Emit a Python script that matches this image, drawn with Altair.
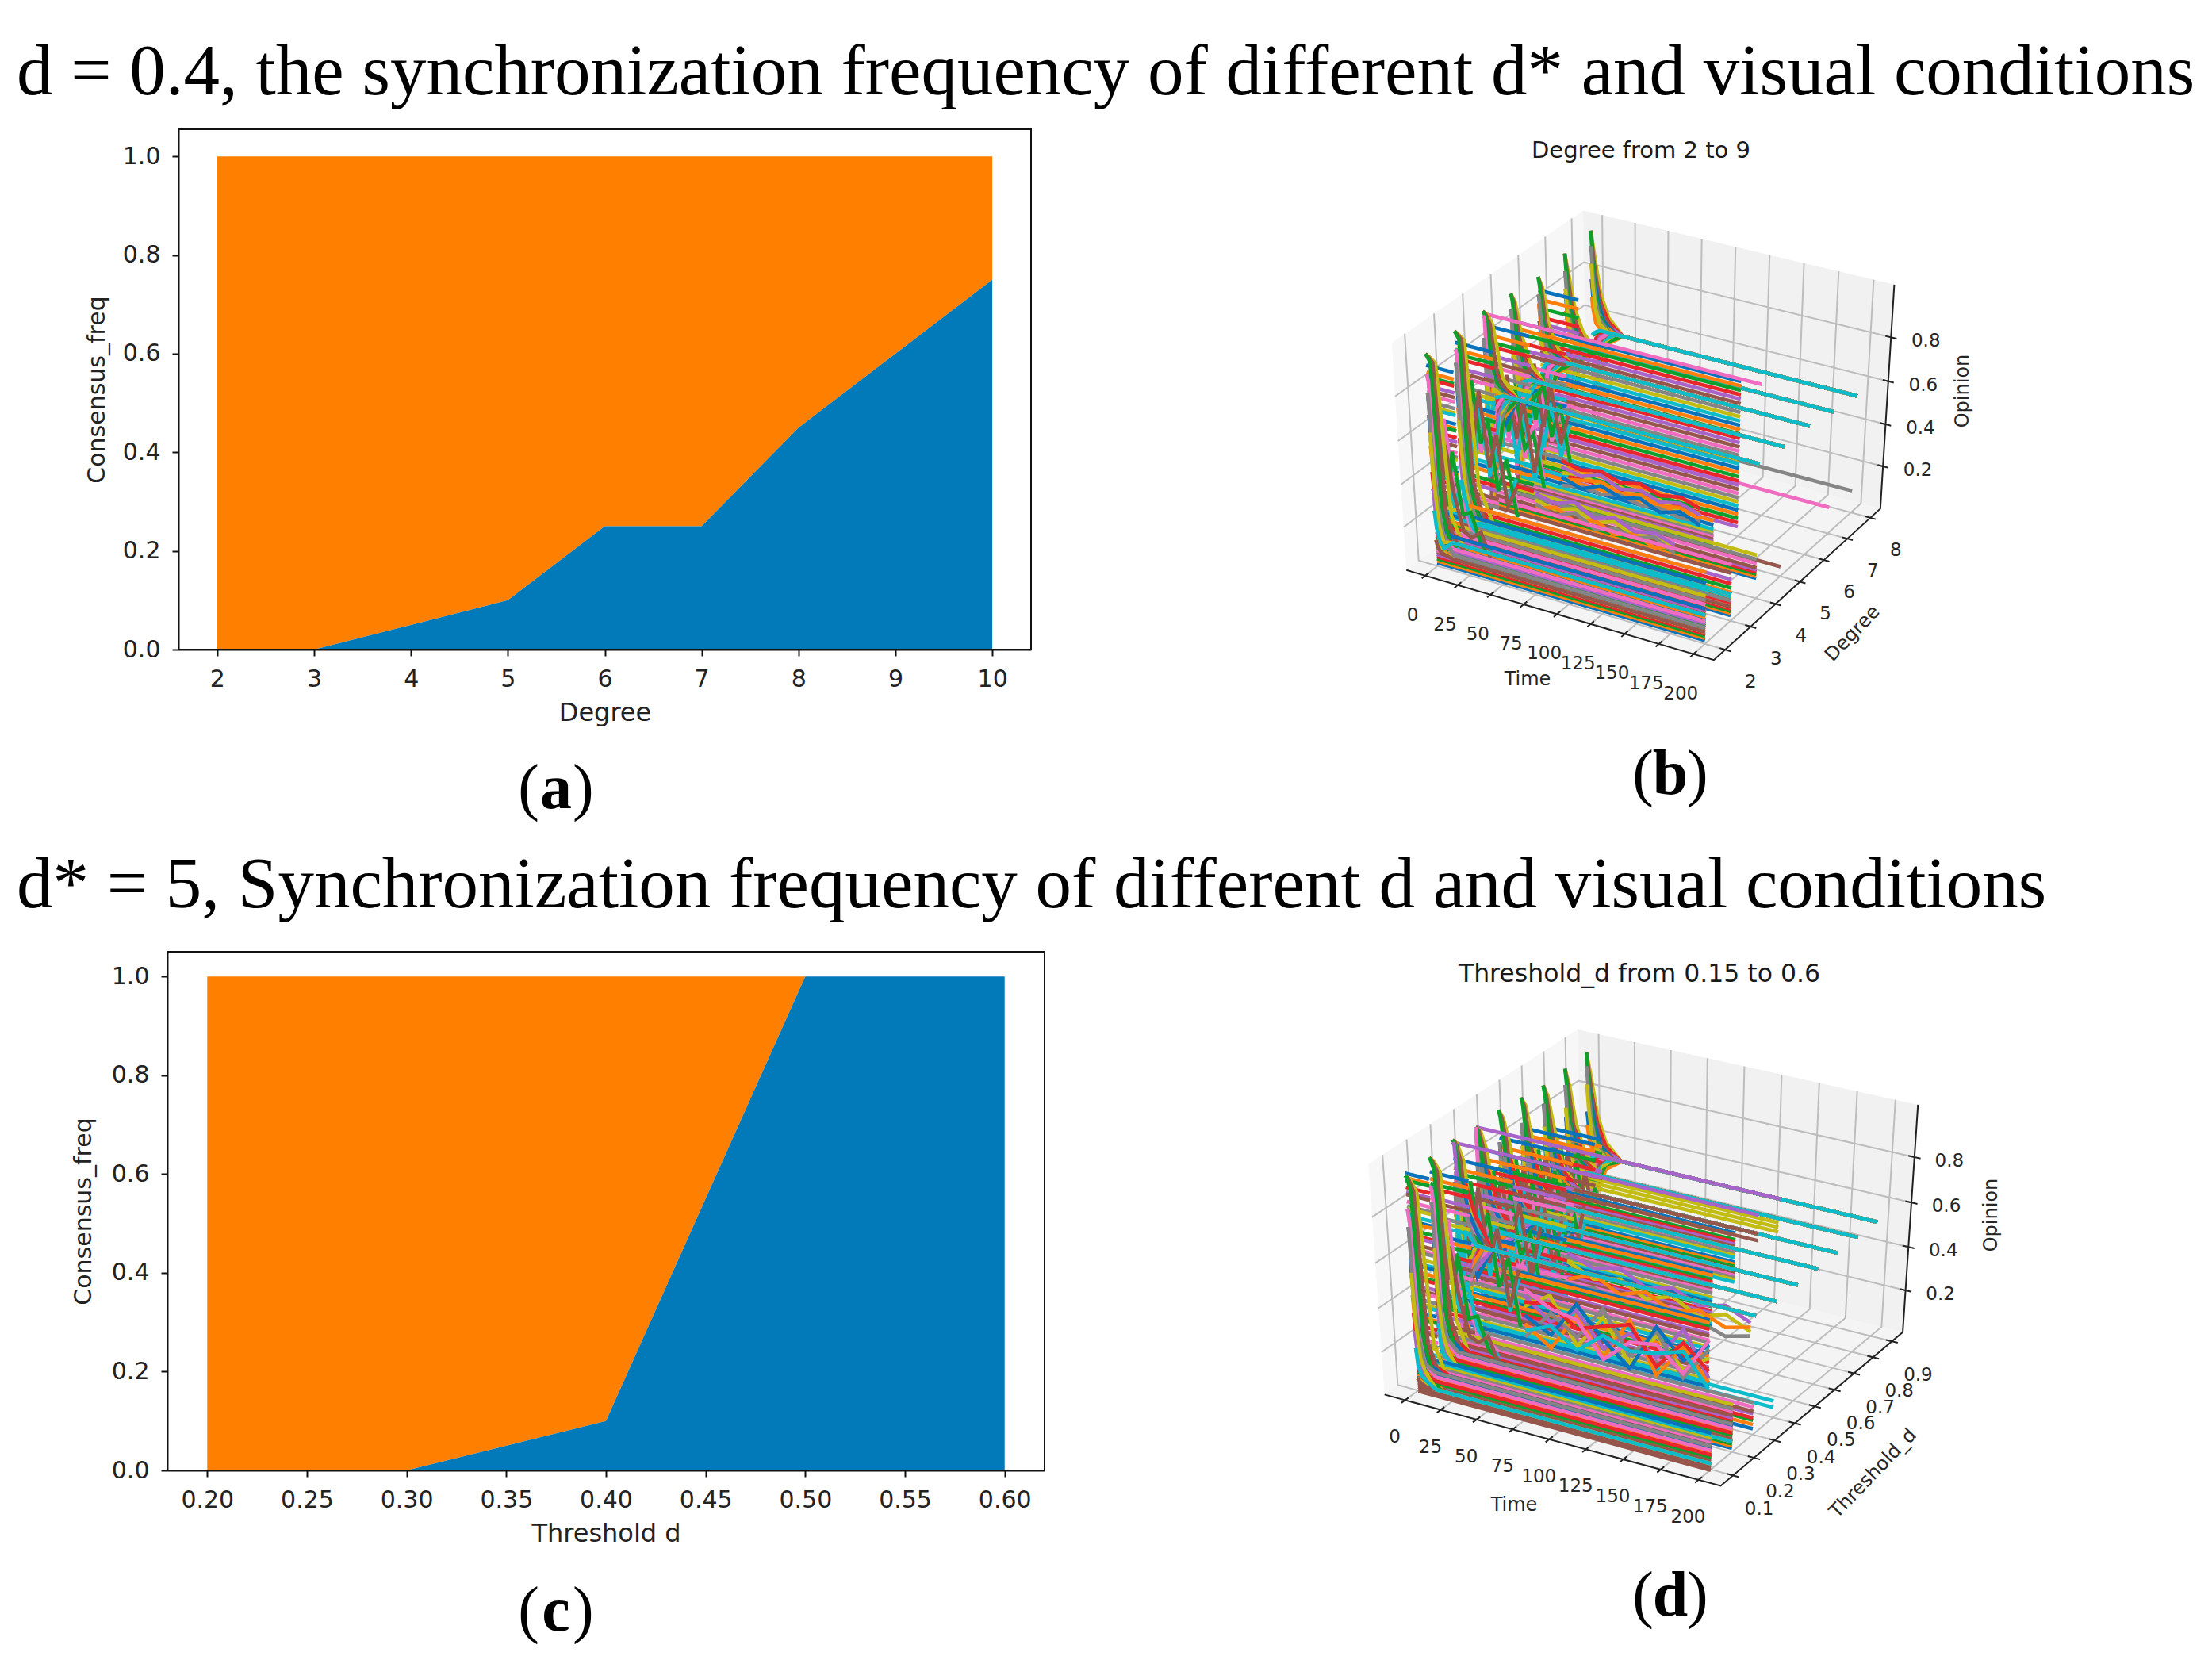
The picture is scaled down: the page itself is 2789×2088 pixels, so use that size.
import math
import numpy as np
import pandas as pd
import altair as alt

W, H = 2773, 2072
TAB = ["#0a72ba", "#ff7f0e", "#0da02c", "#e8262b", "#a864c8", "#96564b", "#f06cc0", "#858585", "#c3bc12", "#0dbccb"]
BLUE, ORANGE = "#0279b8", "#ff7f00"

TITLE_1 = "d = 0.4, the synchronization frequency of different d* and visual conditions"
TITLE_2 = "d* = 5, Synchronization frequency of different d and visual conditions"

# ---- panel (a), (c)
DEGREE = [2, 3, 4, 5, 6, 7, 8, 9, 10]
FREQ_A = [0, 0, 0.05, 0.10, 0.25, 0.25, 0.45, 0.60, 0.75]
THRESH = [0.2, 0.3, 0.4, 0.5, 0.6]
FREQ_C = [0, 0, 0.10, 1.0, 1.0]
ONES_A = [1] * 9
ONES_C = [1] * 5
Y_TICKS = [0, 0.2, 0.4, 0.6, 0.8, 1.0]
XT_C = [0.2, 0.25, 0.3, 0.35, 0.4, 0.45, 0.5, 0.55, 0.6]

# ---- 3D panels: opinions in hundredths, spike knots at these times
T_SPIKES = [[0, 3, 7, 13, 24], [0, 2, 5, 9, 18], [0, 1, 3, 6, 13]]
T_WIG_B = [35, 50, 65, 80, 95, 110, 125, 140]
T_WIG_D = [45, 63, 81, 99, 117, 135, 153, 170]
T_WIGL = [1, 6, 11, 16, 22, 28, 35, 42]

SPIKES_B = {
8: [[78,69,60,57,55],[70,64,58,56,55],[100,87,72,62,56],[41,46,51,53,55],[31,40,48,52,55],[11,26,40,50,55],[19,31,44,51,55],[93,80,68,60,56],[85,74,64,58,55],[52,53,54,55,55]],
7: [[80,70,62,58,57],[72,66,60,58,57],[98,88,74,64,58],[38,45,52,55,57],[28,38,48,54,57],[12,24,42,52,57],[20,33,45,53,57],[90,78,68,61,57],[82,72,64,59,57],[50,53,55,56,57]],
6: [[76,70,65,62,60],[84,74,66,62,60],[96,92,76,66,61],[34,44,52,57,60],[25,36,48,56,60],[8,20,40,54,60],[15,28,44,55,60],[88,80,70,63,60],[70,66,63,61,60],[48,52,56,58,60]],
5: [[74,62,66,62,60],[86,70,64,62,60],[97,94,80,68,61],[30,48,46,58,60],[22,30,52,54,60],[7,16,34,56,60],[13,40,38,50,60],[90,58,72,64,60],[68,72,58,62,60],[45,54,50,58,60]],
4: [[70,56,68,60,62],[60,46,58,66,62],[98,97,93,70,62],[26,50,40,58,62],[20,34,56,48,62],[6,14,30,52,62],[96,95,30,54,62],[86,60,74,66,62],[54,70,44,64,62],[42,56,48,60,62]],
3: [[78,40,22,16,14],[64,50,30,18,12],[98,97,95,30,10],[50,32,20,12,8],[40,28,16,12,10],[15,10,8,7,6],[90,88,20,14,11],[84,60,36,20,9],[58,44,26,15,13],[30,24,14,10,12]],
2: [[70,44,22,18,16],[56,36,24,14,12],[97,96,94,26,8],[44,30,18,13,11],[36,24,14,10,9],[12,9,7,6,5],[88,85,24,15,10],[80,52,30,16,7],[62,40,20,12,14],[26,18,12,9,13]],
}
BANDS_B = {
8: [(200, [10], 7), (12, [48,44,40,36,32,28,24,20], None)],
7: [(200, [12], 6), (14, [52,47,43,38,34,29,25,20,16], None)],
6: [(150, [72,70,68,66,64,62,60,58,56,54,52,50,48,46,44,42,40,38,36,34,32,30,28,26,24,22,20,18,16,14,12,10,8,6,4], None), (30, [90,86,82,78,75], None)],
5: [(150, [4,5,6,7,8,9,10,11,12,13,15,17], None), (200, [4], 5), (40, [85,82,80,76,73,71,66,62,60,55,52,49,44,41,38,34,30,27,23,19], None)],
4: [(200, [97], 6), (200, [9,10,11,12,13,14,16,18,20], None), (34, [92,88,85,83,79,76,74,70,67,65,61,58,56,51,49,47,42,40,37,33,30,28,24,21], None)],
3: [(200, [2,3,4,5,6,7,8,9,10,11,12,13,15,17,19,22,26], None), (28, [93,90,88,86,82,80,78,74,72,70,66,64,62,58,56,54,50,48,46,42,40,38,34,32,30,26,24,22], None)],
2: [(200, [1,2,3,4,5,6,7,8,9,10,11,12,13,14,15,16,18,20,22,25,28,33], None), (20, [92,89,87,86,83,81,79,76,74,73,69,67,66,63,61,59,56,54,53,49,47,46,43,41,39,36,34,33,29,27,26,23,21,20], None)],
}
WIG_B = {
5: [[20,22,19,21,18,20,17,19],[17,19,21,18,20,17,19,16],[23,21,24,20,22,19,21,18],[14,16,15,17,15,16,14,15],[18,15,19,16,18,14,17,13],[26,24,26,23,25,22,24,21]],
4: [[17,15,18,14,17,13,16,12],[13,16,12,15,11,14,10,13],[20,18,21,16,19,15,17,14],[15,12,16,11,14,12,15,10]],
}
WIGL_B = {
5: [[70,45,62,38,55,34,48,30],[40,66,36,58,30,52,28,44],[58,30,70,42,64,36,52,26],[30,52,44,68,40,60,34,50]],
4: [[76,50,68,42,60,36,52,28],[46,72,38,62,34,56,26,46],[64,34,74,46,66,40,48,24],[34,58,48,72,44,62,30,54]],
3: [[80,55,72,46,58,34,44,24],[50,76,42,66,36,50,26,38],[68,38,78,50,62,30,46,20],[38,62,52,74,40,56,24,34]],
2: [[78,60,70,40,34,22,20,16],[54,74,44,30,44,24,18,14],[66,42,30,56,28,30,16,12],[40,30,58,36,20,18,22,10]],
}

SPIKES_D = {
0.9: [[72,64,58,55,53],[66,60,56,54,53],[98,88,72,60,54],[38,44,48,51,53],[30,38,46,50,53],[10,24,38,48,53],[18,30,42,50,53],[92,82,68,58,53],[84,74,62,56,53],[50,51,52,53,53]],
0.8: [[76,62,60,55,53],[70,66,56,54,53],[97,90,74,62,54],[34,46,44,52,53],[26,34,48,50,53],[8,20,36,50,53],[14,32,40,48,53],[90,76,70,58,53],[80,70,58,56,53],[46,50,52,52,53]],
0.7: [[74,58,64,56,53],[68,70,54,55,53],[96,92,78,62,54],[30,48,42,54,53],[22,36,50,48,53],[7,18,34,50,53],[12,36,44,46,53],[88,72,72,60,53],[78,66,56,58,53],[44,52,48,54,53]],
0.6: [[72,50,66,54,53],[64,72,50,58,53],[97,94,80,60,54],[28,50,38,56,53],[20,38,54,46,53],[6,14,32,52,53],[11,42,40,48,53],[86,64,74,62,53],[76,58,60,52,53],[40,56,46,55,53]],
0.5: [[70,46,68,52,53],[60,74,46,60,53],[98,95,84,58,54],[24,54,34,58,53],[18,42,58,44,53],[6,12,30,54,53],[10,46,36,50,53],[84,58,78,64,53],[74,52,64,48,53],[36,60,42,57,53]],
0.4: [[68,42,70,50,53],[56,76,42,62,53],[97,96,88,56,54],[22,58,30,60,53],[16,46,62,42,53],[5,10,28,56,53],[97,52,34,52,53],[82,54,80,66,53],[72,48,66,46,53],[32,64,38,58,53]],
0.3: [[66,38,72,48,54],[52,78,38,64,54],[98,97,90,52,54],[20,62,26,62,54],[97,96,66,40,54],[5,8,26,58,54],[9,56,32,54,54],[80,50,82,68,54],[70,44,68,44,54],[28,68,34,60,54]],
0.2: [[64,34,22,14,12],[48,30,18,13,10],[97,96,92,28,8],[40,26,16,10,9],[32,22,12,9,7],[8,6,5,5,4],[85,80,30,16,11],[78,46,28,18,13],[58,36,20,12,6],[24,16,10,8,5]],
0.1: [[60,32,20,12,10],[44,26,14,10,8],[96,95,90,24,6],[36,22,12,9,7],[28,18,10,7,5],[6,5,4,3,3],[82,76,26,14,9],[74,42,24,14,11],[54,32,16,10,4],[20,12,8,6,3]],
}
BANDS_D = {
0.9: [(10, [46,42,38,34,30,26,22], None)],
0.8: [(12, [50,46,42,37,33,29,24,20], None)],
0.7: [(160, [60,58,56], 8), (40, [78,75,72,68,64,61,50,47,44,41,38,35,32,29,26,23,20], None)],
0.6: [(145, [60,59,57,56,55,54,52,51,50,49,47,46,45,44,43,42,41,40,39,38], None), (160, [62,59], 5), (50, [84,81,77,73,70,66,36,33,30,27,24,21,18,15], None)],
0.5: [(144, [49,48,46,45,44,42,41,40,38,37,36,35,34,32,31,30,29,28,27,26,25,24], None), (50, [86,82,79,75,71,67,64,61,58,55,52,20,17,14,11], None)],
0.4: [(200, [97], 4), (200, [5, 8], 9), (60, [88,84,81,79,75,72,70,66,63,61,57,54,52,48,45,43,40,38,35,32,29,26,23,20,17,14], None)],
0.3: [(200, [97], 4), (200, [3,5,7,8,10,11,13,15], None), (170, [47,46,44,43,41,40,38,37,35,34,32,31,29,28,26,25,23,22,20,19,17], None), (40, [90,86,84,81,77,75,72,68,66,63,59,57,54,50,48], None)],
0.2: [(200, [2,3,4,5,6,7,8,9,10,11,12,13,14,15,16,17,19,20,22], None), (26, [91,88,86,84,80,78,76,72,70,68,64,62,60,56,54,52,48,46,44,40,38,36,32,30,28,24], None)],
0.1: [(200, [7,8,9,10,11,12,13,14,15,16,17], None), (200, [0,1,2,3,4,5,6], 5), (16, [97,95,94,91,89,88,85,83,82,79,77,76,73,71,70,67,65,64,61,59,58,55,53,52,49,47,46,43,41,40,37,35,34,31,29,28,25,23,22,19], None)],
}
WIG_D = {
0.5: [[38,33,36,30,34,28,32,27],[30,35,29,33,27,31,26,29],[42,38,41,35,38,33,36,31],[26,29,24,28,23,26,22,25]],
0.3: [[32,40,20,36,18,34,22,30],[24,16,34,18,38,16,32,19],[37,28,36,22,32,24,40,21],[18,32,24,40,22,36,18,34],[28,22,39,26,16,38,26,36],[34,36,28,32,36,20,34,24],[40,34,32,17,28,30,20,38],[21,26,18,28,24,26,30,16]],
}
WIGL_D = {
0.7: [[76,52,68,44,60,40,56,36],[46,70,40,60,34,54,32,48],[62,36,72,48,66,38,56,30],[34,56,46,70,42,62,36,52]],
0.6: [[78,50,70,42,62,36,54,30],[48,74,38,64,34,58,28,48],[66,34,76,48,68,40,50,26],[36,60,50,74,46,64,32,56]],
0.5: [[80,54,72,46,62,38,52,32],[52,76,42,66,38,60,30,50],[68,38,78,50,70,42,54,28],[38,62,52,76,48,66,34,58]],
0.4: [[82,56,74,48,64,40,54,34],[54,78,44,68,40,62,32,52],[70,40,80,52,72,44,56,30],[40,64,54,78,50,68,36,60]],
0.3: [[84,58,76,50,66,42,50,26],[56,80,46,70,42,60,28,44],[72,42,82,54,70,38,52,22],[42,66,56,80,48,64,30,48]],
0.2: [[82,60,72,42,36,24,22,18],[58,76,46,32,46,26,20,16],[68,44,32,58,30,32,18,14],[42,32,60,38,22,20,24,12]],
}

TT_3D = [0, 25, 50, 75, 100, 125, 150, 175, 200]
ZT_3D = [0.2, 0.4, 0.6, 0.8]
DT_B = [2, 3, 4, 5, 6, 7, 8]
DT_D = [0.1, 0.2, 0.3, 0.4, 0.5, 0.6, 0.7, 0.8, 0.9]


def view(p, box):
    """mplot3d-style perspective view, elev 36, azim -60, dist 10."""
    (x0, x1), (y0, y1), (z0, z1) = box
    P = np.array([(p[0]-x0)/(x1-x0), (p[1]-y0)/(y1-y0), (p[2]-z0)/(z1-z0)])
    el, az = math.radians(36), math.radians(-60)
    R = np.array([.5, .5, .5])
    n = np.array([math.cos(el)*math.cos(az), math.cos(el)*math.sin(az), math.sin(el)])
    E = R + 10*n
    u = np.cross([0, 0, 1], n); u = u/np.linalg.norm(u)
    v = np.cross(n, u)
    q = P - E
    w = -float(np.dot(n, q))
    return float(np.dot(u, q))/w, float(np.dot(v, q))/w


def txt(s, x, y, size, font, align="center", baseline="middle", weight="normal", angle=0, color="black"):
    kw = {"angle": angle} if angle else {}
    return alt.Chart(pd.DataFrame({"s": [s]})).mark_text(
        font=font, fontSize=size, align=align, baseline=baseline, fontWeight=weight, color=color, **kw
    ).encode(x=alt.value(x-8), y=alt.value(y-8), text="s:N")


def panel3d(box, calib, bands, spikes, wigs, t_wig, wigl, slabs, dticks, dlab, title, title_size, title_xy, time_xy, dlab_xy, op_xy, off_t, off_d, off_z):
    (t0, t1), (d0, d1), (z0, z1) = box
    pr = [view(c, box) for c, _ in calib]
    px = [c[0]-8 for _, c in calib]
    py = [c[1]-8 for _, c in calib]
    a, b = np.polyfit([q[0] for q in pr], px, 1)
    c, e = np.polyfit([q[1] for q in pr], py, 1)
    dom = [-0.3, 0.3]
    sx = alt.Scale(domain=dom, range=[float(a*dom[0]+b), float(a*dom[1]+b)])
    sy = alt.Scale(domain=dom, range=[float(c*dom[0]+e), float(c*dom[1]+e)])

    def rows(pts, lid, col=None):
        out = []
        for i, p in enumerate(pts):
            X, Y = view(p, box)
            out.append({"x": X, "y": Y, "id": lid, "i": i, "c": col})
        return out

    def line(df, **mk):
        return alt.Chart(pd.DataFrame(df)).mark_line(**mk).encode(
            x=alt.X("x:Q", scale=sx, axis=None), y=alt.Y("y:Q", scale=sy, axis=None),
            detail="id:N", order="i:Q")

    out = []
    panes = [("#f4f4f4", [(t0, d0, z0), (t1, d0, z0), (t1, d1, z0), (t0, d1, z0)]),
             ("#f7f7f7", [(t0, d0, z0), (t0, d1, z0), (t0, d1, z1), (t0, d0, z1)]),
             ("#f1f1f1", [(t0, d1, z0), (t1, d1, z0), (t1, d1, z1), (t0, d1, z1)])]
    for col, pts in panes:
        out.append(line(rows(pts + pts[:1], "p"), fill=col, strokeWidth=0))
    grid = []
    for t in TT_3D:
        grid += rows([(t, d0, z0), (t, d1, z0), (t, d1, z1)], f"t{t}")
    for d in dticks:
        grid += rows([(t1, d, z0), (t0, d, z0), (t0, d, z1)], f"d{d}")
    for z in ZT_3D:
        grid += rows([(t0, d0, z), (t0, d1, z), (t1, d1, z)], f"z{z}")
    out.append(line(grid, stroke="#bdbdbd", strokeWidth=2))
    ax = rows([(t0, d0, z0), (t1, d0, z0), (t1, d1, z0), (t1, d1, z1)], "ax")
    dd = (d1-d0)*0.018
    for t in TT_3D:
        ax += rows([(t, d0+dd, z0), (t, d0-dd, z0)], f"tt{t}")
    for d in dticks:
        ax += rows([(t1-4, d, z0), (t1+4, d, z0)], f"td{d}")
    for z in ZT_3D:
        ax += rows([(t1-4, d1, z), (t1+4, d1, z)], f"tz{z}")
    out.append(line(ax, stroke="#222222", strokeWidth=2))

    data = []
    n = 0
    for s in slabs:
        for tend, zs, cidx in bands[s]:
            for i, z in enumerate(zs):
                col = TAB[(i if cidx is None else cidx) % 10]
                data += rows([(0, s, z/100), (tend, s, z/100)], f"L{n}", col); n += 1
        for i, vals in enumerate(wigs.get(s, [])):
            data += rows([(t, s, v/100) for t, v in zip(t_wig, vals)], f"L{n}", TAB[(i*3+8) % 10]); n += 1
        for i, vals in enumerate(wigl.get(s, [])):
            data += rows([(t, s, v/100) for t, v in zip(T_WIGL, vals)], f"L{n}", TAB[(i*3+6) % 10]); n += 1
        teal = spikes[s][9][-1]
        for k, knots in enumerate(T_SPIKES):
            for i, vals in enumerate(spikes[s]):
                tail = teal if abs(vals[-1]-teal) <= 2 else vals[-1]
                pts = [(t, s, v/100) for t, v in zip(knots[:-1], vals[:-1])] + [(knots[-1], s, tail/100), (200, s, tail/100)]
                data += rows(pts, f"L{n}", TAB[(i + (2-k)*3) % 10]); n += 1
    out.append(alt.Chart(pd.DataFrame(data)).mark_line(strokeWidth=4.6, strokeCap="butt", strokeJoin="miter").encode(
        x=alt.X("x:Q", scale=sx, axis=None), y=alt.Y("y:Q", scale=sy, axis=None),
        color=alt.Color("c:N", scale=None, legend=None), detail="id:N", order="i:Q"))

    def labels(pts, texts, dx, dy):
        recs = []
        for p, s in zip(pts, texts):
            X, Y = view(p, box)
            recs.append({"x": X, "y": Y, "s": s})
        return alt.Chart(pd.DataFrame(recs)).mark_text(font="DejaVu Sans", fontSize=23, color="#262626", dx=dx, dy=dy).encode(
            x=alt.X("x:Q", scale=sx, axis=None), y=alt.Y("y:Q", scale=sy, axis=None), text="s:N")

    out.append(labels([(t, d0, z0) for t in TT_3D], [str(t) for t in TT_3D], *off_t))
    out.append(labels([(t1, d, z0) for d in dticks], [str(d) for d in dticks], *off_d))
    out.append(labels([(t1, d1, z) for z in ZT_3D], [str(z) for z in ZT_3D], *off_z))
    out.append(txt(title, *title_xy, title_size, "DejaVu Sans", color="#1a1a1a"))
    out.append(txt("Time", *time_xy, 24, "DejaVu Sans", color="#262626"))
    out.append(txt(dlab, *dlab_xy, 24, "DejaVu Sans", angle=314, color="#262626"))
    out.append(txt("Opinion", *op_xy, 24, "DejaVu Sans", angle=270, color="#262626"))
    return out


def panel2d(xs, vals, ones, xdom, xrng, ydom, yrng, xticks, xfmt, xtitle, y_title_pad, x_title_pad):
    sx = alt.Scale(domain=xdom, range=[xrng[0]-8, xrng[1]-8])
    sy = alt.Scale(domain=ydom, range=[yrng[0]-8, yrng[1]-8])
    base = dict(tickColor="#111111", domainColor="#111111", tickWidth=2, domainWidth=2, tickSize=8, grid=False,
                labelFont="DejaVu Sans", labelFontSize=30, labelColor="#222222", titleFont="DejaVu Sans",
                titleColor="#222222", titleFontWeight="normal", labelOverlap=False, labelFlush=False)
    df = pd.DataFrame({"x": xs, "v": vals, "one": ones, "zero": [0]*len(xs)})
    ax = alt.Axis(orient="bottom", offset=yrng[0]-8-H, values=xticks, format=xfmt, title=xtitle, labelPadding=14,
                  titlePadding=x_title_pad, titleFontSize=32, **base)
    ay = alt.Axis(orient="left", offset=-(xrng[0]-8), values=Y_TICKS, format=".1f", title="Consensus_freq", labelPadding=15,
                  titlePadding=y_title_pad, titleFontSize=30, **base)
    orange = alt.Chart(df).mark_area(color=ORANGE).encode(
        x=alt.X("x:Q", scale=sx, axis=None), y=alt.Y("one:Q", scale=sy, axis=None), y2="v:Q")
    blue = alt.Chart(df).mark_area(color=BLUE).encode(
        x=alt.X("x:Q", scale=sx, axis=ax), y=alt.Y("v:Q", scale=sy, axis=ay), y2="zero:Q")
    fr = pd.DataFrame({"a": [xdom[0]], "b": [xdom[1]], "c": [ydom[0]], "d": [ydom[1]]})
    frame = alt.Chart(fr).mark_rect(fill="transparent", stroke="#111111", strokeWidth=2).encode(
        x=alt.X("a:Q", scale=sx, axis=None), x2="b:Q", y=alt.Y("c:Q", scale=sy, axis=None), y2="d:Q")
    return [orange, blue, frame]


def caption(letter, x, y):
    f = "Liberation Serif"
    return [txt("(", x-21, y, 80, f, align="right", baseline="alphabetic"),
            txt(letter, x, y, 80, f, align="center", baseline="alphabetic", weight="bold"),
            txt(")", x+21, y, 80, f, align="left", baseline="alphabetic")]


layers = []
layers += [txt(TITLE_1, 21, 119, 91, "Liberation Serif", align="left", baseline="alphabetic"),
           txt(TITLE_2, 21, 1144, 91, "Liberation Serif", align="left", baseline="alphabetic")]
layers += panel2d(DEGREE, FREQ_A, ONES_A, [1.6, 10.4], [225, 1300], [0, 1.055], [819, 163], DEGREE, "d", "Degree", 17, 12)
layers += panel2d(THRESH, FREQ_C, ONES_C, [0.18, 0.62], [211, 1317], [0, 1.05], [1854, 1200], XT_C, ".2f", "Threshold d", 20, 12)

layers += panel3d(
    box=((-14.6, 214.6), (1.56, 8.44), (-0.006, 1.034)),
    calib=[((-14.6, 1.56, -0.006), (1770, 715)), ((214.6, 1.56, -0.006), (2164, 839)), ((214.6, 8.44, -0.006), (2372, 635)),
           ((214.6, 8.44, 1.034), (2385, 359)), ((-14.6, 8.44, 1.034), (1997, 267)), ((-14.6, 1.56, 1.034), (1756, 434))],
    bands=BANDS_B, spikes=SPIKES_B, wigs=WIG_B, t_wig=T_WIG_B, wigl=WIGL_B, slabs=[8, 7, 6, 5, 4, 3, 2], dticks=DT_B, dlab="Degree",
    title="Degree from 2 to 9", title_size=29, title_xy=(2069, 190), time_xy=(1926, 857), dlab_xy=(2336, 799), op_xy=(2475, 493),
    off_t=(-16, 50), off_d=(32, 41), off_z=(44, 5))
layers += panel3d(
    box=((-14.6, 214.6), (0.042, 0.958), (0.003, 1.025)),
    calib=[((-14.6, 0.042, 0.003), (1742, 1756)), ((214.6, 0.042, 0.003), (2172, 1880)), ((214.6, 0.958, 0.003), (2401, 1674)),
           ((214.6, 0.958, 1.025), (2415, 1396)), ((-14.6, 0.958, 1.025), (1989, 1301)), ((-14.6, 0.042, 1.025), (1728, 1463))],
    bands=BANDS_D, spikes=SPIKES_D, wigs=WIG_D, t_wig=T_WIG_D, wigl=WIGL_D, slabs=[0.9, 0.8, 0.7, 0.6, 0.5, 0.4, 0.3, 0.2, 0.1], dticks=DT_D, dlab="Threshold_d",
    title="Threshold_d from 0.15 to 0.6", title_size=31.5, title_xy=(2067, 1229), time_xy=(1909, 1898), dlab_xy=(2362, 1858), op_xy=(2511, 1532),
    off_t=(-13, 47), off_d=(33, 43), off_z=(44, 5))

layers += caption("a", 701, 1019) + caption("b", 2106, 1001) + caption("c", 701, 2056) + caption("d", 2106, 2037)

chart = alt.layer(*layers).resolve_scale(x="independent", y="independent").properties(
    width=W, height=H, padding=0, autosize=alt.AutoSizeParams(type="none")
).configure_view(stroke=None)

chart.save("out.html", embed_options={"renderer": "svg", "actions": False})
